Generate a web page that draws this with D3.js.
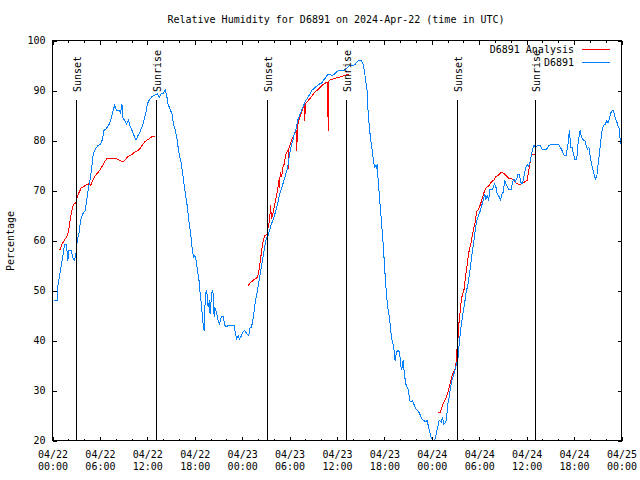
<!DOCTYPE html>
<html><head><meta charset="utf-8">
<script src="https://cdn.jsdelivr.net/npm/d3@7"></script>
<style>
html,body{margin:0;padding:0;background:#fff;}
svg{display:block;}
text{font-family:"DejaVu Sans Mono","Liberation Mono",monospace;font-size:10px;fill:#000;}
</style></head><body>
<svg id="chart" width="640" height="480"></svg>
<script>
// ---- data (hours after 2024-04-22 00:00 UTC) ----
const startUtc = Date.UTC(2024, 3, 22);
const titleText = "Relative Humidity for D6891 on 2024-Apr-22 (time in UTC)";
const seriesNames = ["D6891 Analysis", "D6891"];
const yTicks = [20, 30, 40, 50, 60, 70, 80, 90, 100];
const sunsetHours = [3.07, 27.17, 51.2];
const sunriseHours = [13.2, 37.25, 61.15];

const obsHours = [0.25,0.59,0.68,1.01,1.35,1.52,1.77,1.94,2.07,2.37,2.62,2.79,2.96,3.13,3.38,3.55,3.80,4.14,4.39,4.56,4.82,4.99,5.16,5.41,5.75,6.08,6.34,6.51,6.76,7.10,7.35,7.61,7.86,8.11,8.41,8.62,8.79,8.87,9.13,9.38,9.63,9.80,10.06,10.31,10.56,10.82,11.07,11.32,11.58,11.83,12.00,12.25,12.59,12.93,13.27,13.52,13.77,14.03,14.28,14.45,14.62,14.87,15.13,15.30,15.55,15.72,15.89,16.06,16.31,16.48,16.65,16.82,17.07,17.24,17.49,17.66,17.83,18.00,18.17,18.34,18.59,18.68,18.84,19.01,19.18,19.35,19.52,19.69,19.86,19.94,20.03,20.20,20.37,20.45,20.53,20.79,20.96,21.13,21.38,21.63,21.80,22.05,22.22,22.98,23.15,23.32,23.49,23.66,23.83,24.08,24.34,24.59,24.84,25.01,25.18,25.35,25.52,25.69,25.86,26.03,26.20,26.36,26.53,26.70,26.87,27.04,27.29,27.46,27.63,27.80,27.97,28.14,28.31,28.48,28.65,28.90,29.15,29.41,29.66,29.83,30.00,30.17,30.42,30.59,30.85,31.02,31.27,31.52,31.78,32.03,32.28,32.54,32.79,33.04,33.30,33.55,33.80,34.06,34.31,34.56,34.82,35.15,35.41,35.66,35.91,36.17,36.51,36.93,37.27,37.60,37.94,38.28,38.53,38.87,39.04,39.30,39.46,39.63,39.80,39.89,40.06,40.22,40.39,40.56,40.73,40.90,40.99,41.07,41.24,41.41,41.58,41.75,41.92,42.08,42.25,42.42,42.68,42.85,43.01,43.18,43.35,43.52,43.69,43.94,44.03,44.20,44.37,44.53,44.70,44.87,45.04,45.21,45.38,45.55,45.72,45.97,46.23,46.48,46.73,46.99,47.24,47.41,47.58,47.75,47.91,48.17,48.42,48.55,48.76,48.93,49.18,49.35,49.52,49.78,49.94,50.03,50.20,50.36,50.54,50.79,51.04,51.30,51.46,51.63,51.81,51.97,52.14,52.31,52.57,52.82,52.98,53.15,53.33,53.49,53.66,53.83,54.08,54.25,54.51,54.68,54.84,55.01,55.18,55.35,55.69,55.94,56.11,56.28,56.54,56.70,56.87,57.04,57.21,57.38,57.55,57.72,58.06,58.22,58.39,58.56,58.73,58.90,59.07,59.24,59.41,59.57,59.74,59.91,60.08,60.25,60.42,60.59,60.76,60.93,61.10,61.35,61.69,61.94,62.53,62.79,63.12,64.05,64.31,64.56,64.73,64.98,65.24,65.41,65.49,65.57,65.74,65.91,66.08,66.34,66.50,66.76,66.93,67.18,67.35,67.52,67.69,67.86,68.03,68.20,68.37,68.53,68.70,68.87,69.04,69.21,69.38,69.55,69.72,69.97,70.14,70.31,70.47,70.64,70.90,71.07,71.24,71.41,71.58,71.74,71.83,71.91,72.0];
const obsValues = [48,48,51,54,57.3,59.2,59.2,56,58,58,56.3,56,57.3,60,61.7,64,65.3,66,68.7,70.7,72.7,75,77.3,78.3,79,79.3,80.3,82,82.3,83,84,85.7,87,86,86,85.5,87.3,84.7,84,83.3,84.1,83,82,81,80.1,81,81.7,82.7,84,85.7,87.3,88.1,88.8,89.1,89.3,88.7,89.5,89.5,90.1,89,87.3,86.3,85.3,83.3,82,80.7,78.7,77,75.3,73.3,71.3,69.3,66.7,64,61.3,58.7,56.7,57,56,54,51.5,49.3,47.3,44,42,49.3,50,46.7,48,45.3,47.3,50,49.3,44.7,46.7,45.3,44,43.3,44.8,44.7,43,42.7,43,43,41.3,40.3,41,40.3,40.7,41.7,42,41.3,41,42.7,42.7,44,46,48,49.3,51,52.5,54,55.7,57.3,59,60.3,61,62,63,63.7,64.3,65.3,66.3,67.3,68.7,70,71.3,72.7,74,75.3,77.3,78.7,80,81.3,82.5,84,85,86.1,87,88,88.5,89.2,90,90.3,90.7,91,91.3,91.5,92.1,92.5,93.2,93.2,93,93.2,93.7,93.9,94.1,94.1,94.5,95,95,95.2,95.7,96.1,96.1,95.3,94,92,90,86.7,83.3,80.7,78.7,76.7,74.7,75,74.3,75.2,71.3,68,64.7,61.3,57.3,53.3,49.3,46.7,44,41.3,39.7,38.7,36,37.7,38,37.7,35,34.3,36,33.3,31.3,30.7,30,28,27.7,28,27.3,26.3,26,25.3,24.3,24,23.7,24,22.7,21.7,20.7,20,20.3,21.3,22.7,24,23.7,24.7,23.3,23.7,25.7,27.3,28.7,30.7,32,33.3,34.7,36.3,39.3,42,44,45.7,47.3,49.3,51.3,54,56,58,60,62,63.7,64.7,65.7,66.7,68,69.3,68.3,69,68,70.3,70.3,71.3,70.7,69.3,68.7,68.1,69.3,69.7,72,71.3,70.7,70.3,70.3,71.7,72.3,71.7,72.3,73.3,73.2,71.7,71.3,72.1,73.5,74.7,75.2,74.8,75.7,77,78.3,79,78.5,79,79,78.3,78.3,79,79.2,79.2,78.5,77.7,77,77,79.3,82.1,80.3,78.7,78.7,77.3,76.3,76.3,79.3,82.1,80.7,80.1,80,79,78.3,78.7,77,75.3,74.3,73.3,72.3,72.7,75.3,77.3,80,82,83,83.3,84,83.5,84.3,85.5,86.1,85.5,84.3,83.7,82.8,82.3,80,79.3,80.7];

const anaHours = [0.80,1.01,1.22,1.52,1.77,1.94,2.11,2.28,2.54,2.70,2.96,3.13,3.38,3.63,3.97,4.31,4.56,4.82,5.07,5.32,5.58,5.83,6.08,6.34,6.59,6.84,7.18,7.61,7.94,8.20,8.54,8.83,9.13,9.46,9.80,10.14,10.48,10.82,11.15,11.41,11.66,12.00,12.34,12.68,13.01,
24.76,25.01,25.44,25.86,26.03,26.20,26.36,26.53,26.70,26.87,27.13,27.29,27.46,27.60,27.70,27.80,27.97,28.14,28.31,28.48,28.65,28.73,28.82,28.99,29.15,29.32,29.49,29.66,29.80,29.83,29.86,30.00,30.17,30.42,30.68,30.91,30.93,30.96,31.10,31.27,31.52,31.77,31.92,31.94,31.97,32.20,32.53,32.87,33.21,33.55,33.89,34.22,34.56,34.82,34.88,34.93,35.15,35.49,35.92,36.34,36.76,37.18,37.50,
48.84,49.09,49.35,49.60,49.85,50.11,50.36,50.61,50.87,51.04,51.12,51.30,51.38,51.55,51.72,51.88,52.06,52.14,52.31,52.48,52.64,52.82,52.98,53.24,53.49,53.66,53.92,54.17,54.43,54.68,54.94,55.27,55.52,55.86,56.11,56.45,56.79,57.04,57.38,57.72,58.05,58.30,58.64,58.98,59.31,59.73,60.07,60.24,60.41,60.58,60.74,61.00];
const anaValues = [58.1,58.3,59.3,60.1,60.7,61.3,62.7,64.7,66.7,67.3,67.5,68.7,69.7,70.5,70.8,71.2,71.3,71,72,72.7,73.3,73.7,74.3,75,75.7,76.3,76.5,76.5,76.5,76.3,76,75.7,76,76.7,77,77.3,77.8,78,78.5,79.2,79.7,80.1,80.5,80.9,80.9,
51,51.5,52.1,52.5,53.3,54.7,56.7,58.7,60.3,61,61.2,62.7,64,67,64.5,64.7,66,67.3,68.7,70,72,70.5,73.7,72.7,74.7,75.3,77,77.7,78,74.3,78.3,78.7,79.7,80.7,81.5,82,78,82.5,83.7,84.5,85.7,86.7,87,84,87.2,87.7,88.3,89,89.7,90.1,90.7,91.2,91.5,91.7,81.9,91.8,92.1,92.3,92.5,92.7,92.9,93.1,93.2,
25.5,25.7,27,27.9,28.7,30,31.7,33.3,34,35,37.3,40,42.7,45.3,48,49.3,50,51.3,53.3,55.3,57.3,58.7,59.7,62,63.7,65.7,66.3,67.3,68.7,70,70.7,71,71.7,72.1,72.8,73.1,73.7,73.5,73,72.5,72.5,72,71.5,71.2,71.3,71.7,72,73.7,75.3,77,77.2,77.3];

// ---- chart ----
const svg = d3.select("#chart");
const toDate = h => new Date(startUtc + h * 3600000);
const x = d3.scaleUtc().domain([toDate(0), toDate(72)]).range([52, 621]);
const y = d3.scaleLinear().domain([20, 100]).range([440, 40]);
const root = svg.append("g").attr("transform", "translate(0.5,0.5)");

// title
svg.append("text").attr("x", 336).attr("y", 23).attr("text-anchor", "middle").text(titleText);
// y label
svg.append("text").attr("transform", "translate(14,241) rotate(-90)").attr("text-anchor", "middle").text("Percentage");

// series -> segments (split analysis at data gaps)
function toSegments(hours, values) {
  const segs = []; let cur = [];
  hours.forEach((h, i) => {
    if (cur.length && h - hours[i - 1] > 3) { segs.push(cur); cur = []; }
    cur.push([toDate(h), values[i]]);
  });
  if (cur.length) segs.push(cur);
  return segs;
}
const line = d3.line().x(d => x(d[0])).y(d => y(d[1]));
svg.append("clipPath").attr("id", "pc").append("rect")
  .attr("x", 52).attr("y", 40).attr("width", 570).attr("height", 401);
const dataG = root.append("g").attr("clip-path", "url(#pc)");
dataG.selectAll("path.ana").data(toSegments(anaHours, anaValues)).join("path")
  .attr("class", "ana").attr("d", line).attr("fill", "none").attr("stroke", "#ff0000")
  .attr("stroke-width", 1).attr("shape-rendering", "crispEdges");
dataG.selectAll("path.obs").data(toSegments(obsHours, obsValues)).join("path")
  .attr("class", "obs").attr("d", line).attr("fill", "none").attr("stroke", "#0080ff")
  .attr("stroke-width", 1).attr("shape-rendering", "crispEdges");

// sunset / sunrise markers
const events = sunsetHours.map(h => ({h, label: "Sunset"})).concat(sunriseHours.map(h => ({h, label: "Sunrise"})));
events.forEach(e => {
  const px = Math.round(x(toDate(e.h)));
  root.append("line").attr("x1", px).attr("x2", px).attr("y1", 99).attr("y2", 440)
    .attr("stroke", "#000").attr("shape-rendering", "crispEdges");
  svg.append("text").attr("transform", `translate(${px + 4.5},92) rotate(-90)`).text(e.label);
});

// frame
root.append("rect").attr("x", 52).attr("y", 40).attr("width", 569).attr("height", 400)
  .attr("fill", "none").attr("stroke", "#000").attr("shape-rendering", "crispEdges");

// axes
function styleAxis(g) {
  g.select(".domain").remove();
  g.selectAll("line").attr("stroke", "#000").attr("shape-rendering", "crispEdges");
  g.attr("font-family", null).attr("font-size", null);
}
const major = d3.utcHour.every(6), minor = d3.utcHour.every(2);
root.append("g").attr("transform", "translate(0,440)")
  .call(d3.axisBottom(x).ticks(minor).tickSize(-2).tickFormat("")).call(styleAxis);
root.append("g").attr("transform", "translate(0,40)")
  .call(d3.axisTop(x).ticks(minor).tickSize(-2).tickFormat("")).call(styleAxis);
root.append("g").attr("transform", "translate(0,40)")
  .call(d3.axisTop(x).ticks(major).tickSize(-4).tickFormat("")).call(styleAxis);
const fmtDate = d3.utcFormat("%m/%d"), fmtTime = d3.utcFormat("%H:%M");
const bx = root.append("g").attr("transform", "translate(0,440)")
  .call(d3.axisBottom(x).ticks(major).tickSize(-4).tickFormat(fmtDate)).call(styleAxis);
bx.selectAll(".tick text").each(function(d) {
  const t = d3.select(this).attr("y", null).attr("dy", null).text(null).attr("fill", "#000");
  t.append("tspan").attr("x", 0).attr("y", 17).text(fmtDate(d));
  t.append("tspan").attr("x", 0).attr("y", 29).text(fmtTime(d));
});
root.append("g").attr("transform", "translate(52,0)")
  .call(d3.axisLeft(y).tickValues(yTicks).tickSize(-4).tickPadding(7)).call(styleAxis)
  .selectAll("text").attr("fill", "#000");
root.append("g").attr("transform", "translate(621,0)")
  .call(d3.axisRight(y).tickValues(yTicks).tickSize(-4).tickFormat("")).call(styleAxis);

// legend
const legend = [{name: seriesNames[0], color: "#ff0000"}, {name: seriesNames[1], color: "#0080ff"}];
legend.forEach((l, i) => {
  svg.append("text").attr("x", 574).attr("y", 53 + i * 13).attr("text-anchor", "end").text(l.name);
  root.append("line").attr("x1", 581).attr("x2", 609).attr("y1", 49 + i * 13).attr("y2", 49 + i * 13)
    .attr("stroke", l.color).attr("shape-rendering", "crispEdges");
});
</script>
</body></html>
